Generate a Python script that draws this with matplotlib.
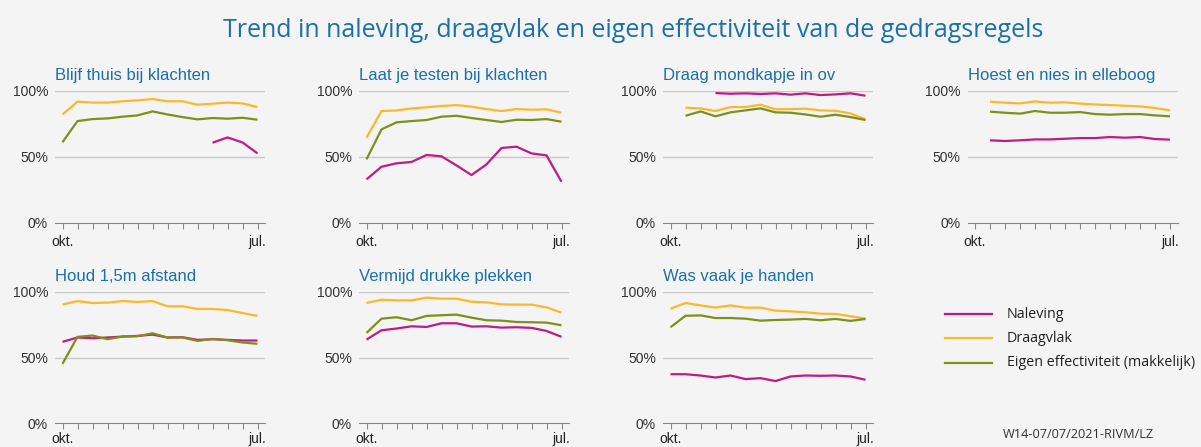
import numpy as np
import matplotlib
matplotlib.use('Agg')
import matplotlib.pyplot as plt

nan = np.nan

# 14 meetrondes, okt. t/m jul.
rounds = list(range(14))
tick_first = 'okt.'
tick_last = 'jul.'

titles = ['Blijf thuis bij klachten', 'Laat je testen bij klachten',
          'Draag mondkapje in ov', 'Hoest en nies in elleboog',
          'Houd 1,5m afstand', 'Vermijd drukke plekken', 'Was vaak je handen']

series_names = ['Naleving', 'Draagvlak', 'Eigen effectiviteit (makkelijk)']

# Naleving
naleving_thuis = [nan, nan, nan, nan, nan, nan, nan, nan, nan, nan, 60.6, 64.6, 60.8, 52.5]
naleving_testen = [32.8, 42.4, 45, 46, 51.3, 50.3, 43.4, 36.1, 44.2, 56.6, 57.6, 52.5, 51, 31]
naleving_mondkapje = [nan, nan, nan, 98.2, 97.7, 98, 97.5, 98, 97, 98, 96.7, 97.2, 98, 96.2]
naleving_hoest = [nan, 62.4, 61.9, 62.4, 63.1, 63.1, 63.6, 64.1, 64.1, 64.9, 64.4, 64.9, 63.4, 62.9]
naleving_afstand = [61.9, 65.2, 64.6, 65.2, 65.9, 66.4, 67.4, 65.2, 65.4, 63.4, 63.9, 63.4, 62.9, 62.9]
naleving_drukte = [63.6, 70.7, 72, 73.7, 73.2, 76, 76, 73.5, 73.7, 72.7, 73, 72.5, 70.2, 65.7]
naleving_handen = [37.3, 37.3, 36.3, 34.8, 36.3, 33.6, 34.3, 32.1, 35.6, 36.3, 36.1, 36.3, 35.6, 33.1]

# Draagvlak
draagvlak_thuis = [82, 91.7, 91, 91, 92, 92.7, 93.7, 92, 92, 89.4, 90.2, 91, 90.4, 87.6]
draagvlak_testen = [64.4, 84.6, 85, 86.6, 87.4, 88.4, 89.1, 87.9, 86.1, 84.6, 86.1, 85.6, 85.9, 83.3]
draagvlak_mondkapje = [nan, 87.1, 86.6, 84.6, 87.6, 87.6, 89.4, 85.9, 86.1, 86.4, 85.1, 84.8, 82.8, 78.3]
draagvlak_hoest = [nan, 91.7, 90.9, 90.4, 91.9, 90.9, 91.2, 90.2, 89.6, 89.1, 88.6, 88.1, 86.9, 85.1]
draagvlak_afstand = [90.2, 92.9, 91.4, 91.7, 92.9, 92.2, 92.9, 88.9, 88.9, 86.9, 86.9, 86.1, 83.8, 81.6]
draagvlak_drukte = [91.4, 93.9, 93.4, 93.4, 95.5, 94.7, 94.7, 92.4, 91.9, 90.4, 90.2, 90.2, 88.1, 84.1]
draagvlak_handen = [87.1, 91.4, 89.6, 87.9, 89.6, 87.9, 87.9, 85.6, 85.1, 84.4, 83.3, 83.1, 81.4, 79.6]

# Eigen effectiviteit (makkelijk)
effectief_thuis = [61, 77, 78.5, 79, 80.3, 81.3, 84.3, 82, 80, 78.3, 79.3, 78.8, 79.5, 78]
effectief_testen = [48, 70.7, 76, 77, 77.8, 80.3, 81, 79.3, 77.8, 76.3, 78, 77.8, 78.5, 76.5]
effectief_mondkapje = [nan, 81, 84.3, 80.6, 83.6, 85.1, 86.6, 83.6, 83.3, 82, 80.3, 81.8, 80, 77.8]
effectief_hoest = [nan, 84.1, 83.3, 82.6, 84.6, 83.3, 83.3, 83.8, 82.3, 81.8, 82.3, 82.3, 81.3, 80.6]
effectief_afstand = [45.2, 65.7, 66.7, 63.9, 65.9, 66.2, 68.4, 65.2, 65.2, 62.6, 64.1, 63.1, 61.4, 60.4]
effectief_drukte = [68.7, 79.5, 80.6, 78.3, 81.6, 82.1, 82.6, 80.3, 78.3, 78, 77, 76.8, 76.5, 74.5]
effectief_handen = [73, 81.7, 82, 80, 80, 79.5, 78, 78.5, 78.8, 79.3, 78.3, 79.3, 77.8, 79.3]

naleving = [naleving_thuis, naleving_testen, naleving_mondkapje, naleving_hoest,
            naleving_afstand, naleving_drukte, naleving_handen]
draagvlak = [draagvlak_thuis, draagvlak_testen, draagvlak_mondkapje, draagvlak_hoest,
             draagvlak_afstand, draagvlak_drukte, draagvlak_handen]
effectief = [effectief_thuis, effectief_testen, effectief_mondkapje, effectief_hoest,
             effectief_afstand, effectief_drukte, effectief_handen]

bg = '#f4f4f4'
blue = '#1a70a8'
colors = ['#bf1b82', '#fcb82c', '#7f8f1c']

fig = plt.figure(figsize=(12.01, 4.47), dpi=100, facecolor=bg)
fig.text(0.527, 0.932, 'Trend in naleving, draagvlak en eigen effectiviteit van de gedragsregels',
         ha='center', va='center', fontsize=18, color=blue, family='Open Sans')

W, H = 1201, 447
lefts = [55, 359, 663, 967.5]
rows = [(90.7, 222.7), (291.7, 423.3)]

for i in range(7):
    r, c = divmod(i, 4)
    top, bot = rows[r]
    ax = fig.add_axes([lefts[c] / W, 1 - bot / H, 210 / W, (bot - top) / H])
    ax.set_facecolor(bg)
    for vals, col in zip([naleving[i], draagvlak[i], effectief[i]], colors):
        ax.plot(rounds, vals, color=col, lw=1.6, solid_capstyle='butt')
    ax.set_xlim(-0.5, 13.5)
    ax.set_ylim(0, 100)
    ax.set_yticks([0, 50, 100])
    ax.set_yticklabels(['0%', '50%', '100%'], family='Liberation Sans')
    ax.set_xticks(rounds)
    ax.set_xticklabels([tick_first] + [''] * 12 + [tick_last], family='Liberation Sans')
    for y in [50, 100]:
        ax.axhline(y, color='#c8c8c8', lw=1, zorder=0)
    for s in ['top', 'right', 'left']:
        ax.spines[s].set_visible(False)
    ax.spines['bottom'].set_color('#888888')
    ax.tick_params(axis='y', length=0, pad=5, labelsize=10, labelcolor='#333333')
    ax.tick_params(axis='x', length=4, color='#888888', pad=5 if r == 0 else 2.5,
                   labelsize=10, labelcolor='#222222')
    ax.set_title(titles[i], loc='left', fontsize=12, color=blue, pad=8,
                 family='Liberation Sans')

# legenda
leg_y = [314.3, 338.3, 362.7]
for name, col, y in zip(series_names, colors, leg_y):
    fig.add_artist(plt.Line2D([945 / W, 992 / W], [1 - y / H, 1 - y / H], color=col, lw=1.6))
    fig.text(1007 / W, 1 - y / H, name, va='center', ha='left', fontsize=10.3,
             color='#222222', family='Open Sans')

fig.text(1078 / W, 1 - 435 / H, 'W14-07/07/2021-RIVM/LZ', ha='center', va='center',
         fontsize=9.2, color='#333333', family='Open Sans')

fig.savefig('out.png', dpi=100, facecolor=bg)
